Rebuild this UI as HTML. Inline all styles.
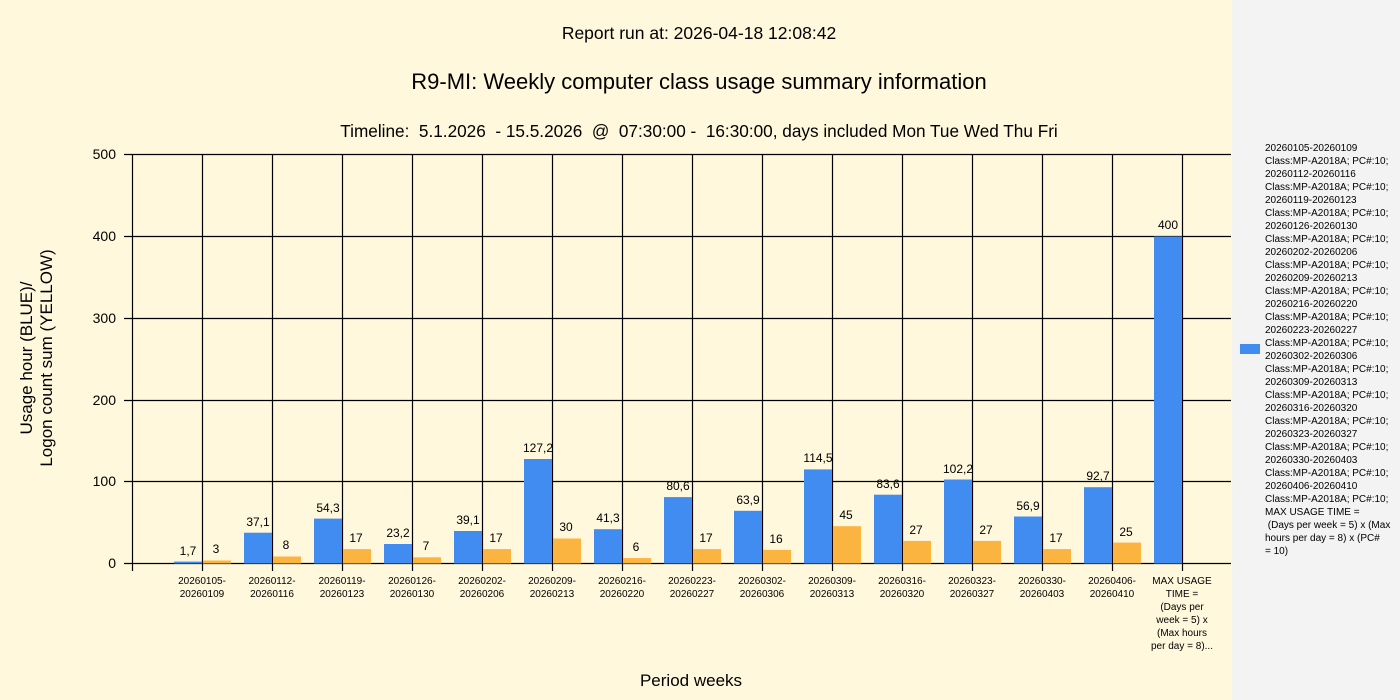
<!DOCTYPE html>
<html><head><meta charset="utf-8"><style>
body{margin:0;width:1400px;height:700px;overflow:hidden;background:#fff8dc}
svg{display:block;font-family:"Liberation Sans",Arial,sans-serif}
</style></head><body>
<svg width="1400" height="700" viewBox="0 0 1400 700">
<rect x="0" y="0" width="1400" height="700" fill="#fff8dc"/>
<rect x="1232" y="0" width="168" height="700" fill="#f3f3f3"/>
<g fill="#000" text-anchor="middle">
<text x="699" y="39" font-size="17.5">Report run at: 2026-04-18 12:08:42</text>
<text x="699" y="89" font-size="22">R9-MI: Weekly computer class usage summary information</text>
<text x="699" y="137" font-size="17.2" xml:space="preserve">Timeline:  5.1.2026  - 15.5.2026  @  07:30:00 -  16:30:00, days included Mon Tue Wed Thu Fri</text>
<text x="691" y="686" font-size="17">Period weeks</text>
<text transform="translate(32,358) rotate(-90)" font-size="17">Usage hour (BLUE)/</text>
<text transform="translate(52,358) rotate(-90)" font-size="17">Logon count sum (YELLOW)</text>
</g>
<g stroke="#000" stroke-width="1.2">
<line x1="124" y1="154.5" x2="1231" y2="154.5"/>
<line x1="124" y1="236.5" x2="1231" y2="236.5"/>
<line x1="124" y1="318.5" x2="1231" y2="318.5"/>
<line x1="124" y1="400.5" x2="1231" y2="400.5"/>
<line x1="124" y1="481.5" x2="1231" y2="481.5"/>
<line x1="124" y1="563.5" x2="1231" y2="563.5"/>
<line x1="132.5" y1="154" x2="132.5" y2="571"/>
<line x1="202.5" y1="154" x2="202.5" y2="571"/>
<line x1="272.5" y1="154" x2="272.5" y2="571"/>
<line x1="342.5" y1="154" x2="342.5" y2="571"/>
<line x1="412.5" y1="154" x2="412.5" y2="571"/>
<line x1="482.5" y1="154" x2="482.5" y2="571"/>
<line x1="552.5" y1="154" x2="552.5" y2="571"/>
<line x1="622.5" y1="154" x2="622.5" y2="571"/>
<line x1="692.5" y1="154" x2="692.5" y2="571"/>
<line x1="762.5" y1="154" x2="762.5" y2="571"/>
<line x1="832.5" y1="154" x2="832.5" y2="571"/>
<line x1="902.5" y1="154" x2="902.5" y2="571"/>
<line x1="972.5" y1="154" x2="972.5" y2="571"/>
<line x1="1042.5" y1="154" x2="1042.5" y2="571"/>
<line x1="1112.5" y1="154" x2="1112.5" y2="571"/>
<line x1="1182.5" y1="154" x2="1182.5" y2="571"/>
</g>
<g font-size="14" text-anchor="end" fill="#000">
<text x="116" y="159">500</text><text x="116" y="241">400</text><text x="116" y="323">300</text>
<text x="116" y="405">200</text><text x="116" y="486">100</text><text x="116" y="568">0</text>
</g>
<g fill="#418cf0">
<rect x="174" y="561.6" width="28" height="1.9"/>
<rect x="244" y="532.7" width="28" height="30.8"/>
<rect x="314" y="518.6" width="28" height="44.9"/>
<rect x="384" y="544" width="28" height="19.5"/>
<rect x="454" y="531" width="28" height="32.5"/>
<rect x="524" y="459" width="28" height="104.5"/>
<rect x="594" y="529.2" width="28" height="34.3"/>
<rect x="664" y="497.1" width="28" height="66.4"/>
<rect x="734" y="510.8" width="28" height="52.7"/>
<rect x="804" y="469.4" width="28" height="94.1"/>
<rect x="874" y="494.7" width="28" height="68.8"/>
<rect x="944" y="479.5" width="28" height="84"/>
<rect x="1014" y="516.5" width="28" height="47"/>
<rect x="1084" y="487.2" width="28" height="76.3"/>
<rect x="1154" y="236.5" width="28" height="327"/>
</g>
<g fill="#fcb441">
<rect x="203" y="560.5" width="28" height="3"/>
<rect x="273" y="556.5" width="28" height="7"/>
<rect x="343" y="549.1" width="28" height="14.4"/>
<rect x="413" y="557.3" width="28" height="6.2"/>
<rect x="483" y="549.1" width="28" height="14.4"/>
<rect x="553" y="538.5" width="28" height="25"/>
<rect x="623" y="558.1" width="28" height="5.4"/>
<rect x="693" y="549.1" width="28" height="14.4"/>
<rect x="763" y="549.9" width="28" height="13.6"/>
<rect x="833" y="526.2" width="28" height="37.3"/>
<rect x="903" y="540.9" width="28" height="22.6"/>
<rect x="973" y="540.9" width="28" height="22.6"/>
<rect x="1043" y="549.1" width="28" height="14.4"/>
<rect x="1113" y="542.6" width="28" height="20.9"/>
</g>
<g font-size="12" text-anchor="middle" fill="#000">
<text x="188" y="555">1,7</text><text x="216" y="553">3</text>
<text x="258" y="526">37,1</text><text x="286" y="549">8</text>
<text x="328" y="512">54,3</text><text x="356" y="542">17</text>
<text x="398" y="537">23,2</text><text x="426" y="550">7</text>
<text x="468" y="524">39,1</text><text x="496" y="542">17</text>
<text x="538" y="452">127,2</text><text x="566" y="531">30</text>
<text x="608" y="522">41,3</text><text x="636" y="551">6</text>
<text x="678" y="490">80,6</text><text x="706" y="542">17</text>
<text x="748" y="504">63,9</text><text x="776" y="543">16</text>
<text x="818" y="462">114,5</text><text x="846" y="519">45</text>
<text x="888" y="488">83,6</text><text x="916" y="534">27</text>
<text x="958" y="473">102,2</text><text x="986" y="534">27</text>
<text x="1028" y="510">56,9</text><text x="1056" y="542">17</text>
<text x="1098" y="480">92,7</text><text x="1126" y="536">25</text>
<text x="1168" y="229">400</text>
</g>
<g font-size="10" text-anchor="middle" fill="#000">
<text x="202" y="584">20260105-</text><text x="202" y="597">20260109</text>
<text x="272" y="584">20260112-</text><text x="272" y="597">20260116</text>
<text x="342" y="584">20260119-</text><text x="342" y="597">20260123</text>
<text x="412" y="584">20260126-</text><text x="412" y="597">20260130</text>
<text x="482" y="584">20260202-</text><text x="482" y="597">20260206</text>
<text x="552" y="584">20260209-</text><text x="552" y="597">20260213</text>
<text x="622" y="584">20260216-</text><text x="622" y="597">20260220</text>
<text x="692" y="584">20260223-</text><text x="692" y="597">20260227</text>
<text x="762" y="584">20260302-</text><text x="762" y="597">20260306</text>
<text x="832" y="584">20260309-</text><text x="832" y="597">20260313</text>
<text x="902" y="584">20260316-</text><text x="902" y="597">20260320</text>
<text x="972" y="584">20260323-</text><text x="972" y="597">20260327</text>
<text x="1042" y="584">20260330-</text><text x="1042" y="597">20260403</text>
<text x="1112" y="584">20260406-</text><text x="1112" y="597">20260410</text>
<text x="1182" y="584">MAX USAGE</text><text x="1182" y="597">TIME =</text>
<text x="1182" y="610">(Days per</text><text x="1182" y="623">week = 5) x</text>
<text x="1182" y="636">(Max hours</text><text x="1182" y="649">per day = 8)...</text>
</g>
<rect x="1240" y="344" width="20" height="10" fill="#418cf0"/>
<g font-size="10" fill="#000">
<text x="1265" y="151">20260105-20260109</text>
<text x="1265" y="164">Class:MP-A2018A; PC#:10;</text>
<text x="1265" y="177">20260112-20260116</text>
<text x="1265" y="190">Class:MP-A2018A; PC#:10;</text>
<text x="1265" y="203">20260119-20260123</text>
<text x="1265" y="216">Class:MP-A2018A; PC#:10;</text>
<text x="1265" y="229">20260126-20260130</text>
<text x="1265" y="242">Class:MP-A2018A; PC#:10;</text>
<text x="1265" y="255">20260202-20260206</text>
<text x="1265" y="268">Class:MP-A2018A; PC#:10;</text>
<text x="1265" y="281">20260209-20260213</text>
<text x="1265" y="294">Class:MP-A2018A; PC#:10;</text>
<text x="1265" y="307">20260216-20260220</text>
<text x="1265" y="320">Class:MP-A2018A; PC#:10;</text>
<text x="1265" y="333">20260223-20260227</text>
<text x="1265" y="346">Class:MP-A2018A; PC#:10;</text>
<text x="1265" y="359">20260302-20260306</text>
<text x="1265" y="372">Class:MP-A2018A; PC#:10;</text>
<text x="1265" y="385">20260309-20260313</text>
<text x="1265" y="398">Class:MP-A2018A; PC#:10;</text>
<text x="1265" y="411">20260316-20260320</text>
<text x="1265" y="424">Class:MP-A2018A; PC#:10;</text>
<text x="1265" y="437">20260323-20260327</text>
<text x="1265" y="450">Class:MP-A2018A; PC#:10;</text>
<text x="1265" y="463">20260330-20260403</text>
<text x="1265" y="476">Class:MP-A2018A; PC#:10;</text>
<text x="1265" y="489">20260406-20260410</text>
<text x="1265" y="502">Class:MP-A2018A; PC#:10;</text>
<text x="1265" y="515">MAX USAGE TIME =</text>
<text x="1265" y="528" xml:space="preserve"> (Days per week = 5) x (Max</text>
<text x="1265" y="541">hours per day = 8) x (PC#</text>
<text x="1265" y="554">= 10)</text>
</g>
</svg>
</body></html>
